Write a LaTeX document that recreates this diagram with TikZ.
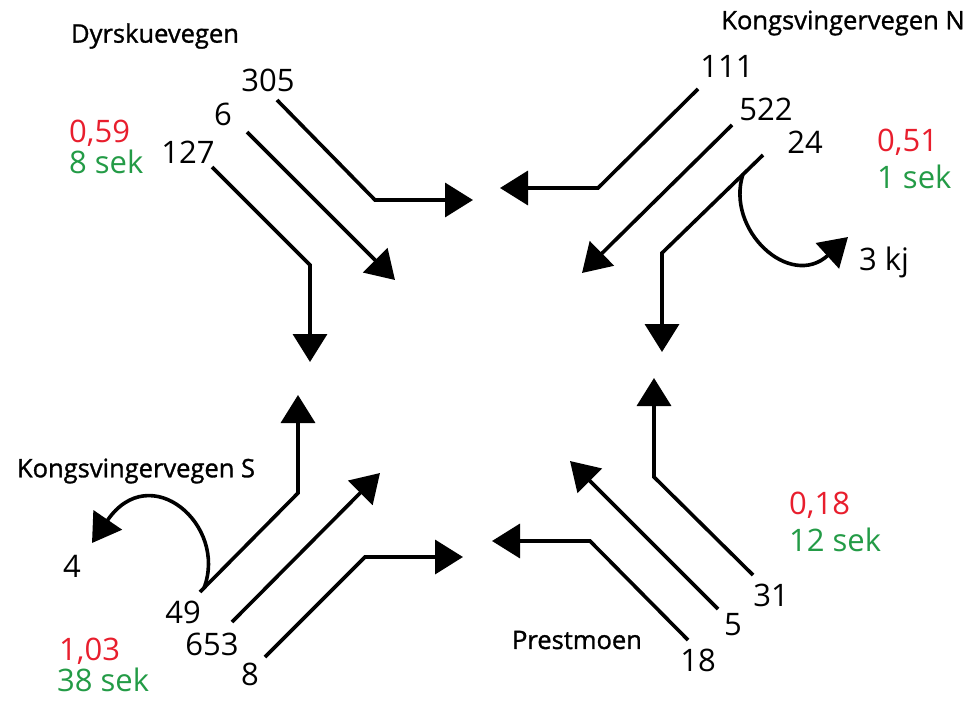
\documentclass[tikz,border=0pt]{standalone}
\usepackage{fontspec}
\setmainfont{Open Sans}
\newfontfamily\roadfont[FakeBold=1.2]{Open Sans}
\usetikzlibrary{arrows.meta}
\definecolor{valred}{RGB}{232,30,45}
\definecolor{valgreen}{RGB}{35,155,70}
\begin{document}
\begin{tikzpicture}[x=1pt,y=-1pt,
  flow/.style={line width=3.6pt,-{Triangle[length=28pt,width=34pt]}},
  numlbl/.style={font=\fontsize{31}{31}\selectfont,inner sep=0pt},
  roadlbl/.style={font=\roadfont\fontsize{25.5}{25.5}\selectfont,inner sep=0pt},
  ratiolbl/.style={numlbl,text=valred,anchor=west},
  waitlbl/.style={numlbl,text=valgreen,anchor=west}]
\useasboundingbox (0,0) rectangle (971,701);
% road names
\node[roadlbl] (dyr) at (155,36) {Dyrskuevegen};
\node[roadlbl] (kvn) at (843,23) {Kongsvingervegen N};
\node[roadlbl] (kvs) at (136,471) {Kongsvingervegen S};
\node[roadlbl] (pre) at (577,640) {Prestmoen};
% volumes
\node[numlbl] (n305) at (268,80) {305};
\node[numlbl] (n6) at (223,114) {6};
\node[numlbl] (n127) at (188,152) {127};
\node[numlbl] (n111) at (727,66) {111};
\node[numlbl] (n522) at (766,109) {522};
\node[numlbl] (n24) at (805,142) {24};
\node[numlbl] (n3kj) at (884,262) {3 kj};
\node[numlbl] (n4) at (72,566) {4};
\node[numlbl] (n49) at (183,612) {49};
\node[numlbl] (n653) at (212,644) {653};
\node[numlbl] (n8) at (250,674) {8};
\node[numlbl] (n31) at (771,595) {31};
\node[numlbl] (n5) at (733,625) {5};
\node[numlbl] (n18) at (698,660) {18};
% ratios and waiting times
\node[ratiolbl] (r1) at (69,133) {0,59};
\node[waitlbl] (w1) at (69,162) {8 sek};
\node[ratiolbl] (r2) at (877,142) {0,51};
\node[waitlbl] (w2) at (877,177) {1 sek};
\node[ratiolbl] (r3) at (59,651) {1,03};
\node[waitlbl] (w3) at (57,680) {38 sek};
\node[ratiolbl] (r4) at (789,505) {0,18};
\node[waitlbl] (w4) at (789,540) {12 sek};
% flow coordinates
\coordinate (s305) at (277,100); \coordinate (k305) at (375,200); \coordinate (e305) at (473,200);
\coordinate (s6) at (247,132); \coordinate (e6) at (395,280);
\coordinate (s127) at (212,167); \coordinate (k127) at (310,265); \coordinate (e127) at (310,362);
\coordinate (s111) at (698,89); \coordinate (k111) at (598,188); \coordinate (e111) at (500,188);
\coordinate (s522) at (732,125); \coordinate (e522) at (582,273);
\coordinate (s24) at (763,155); \coordinate (k24) at (662,253); \coordinate (e24) at (662,352);
\coordinate (uN) at (743,174); \coordinate (euN) at (848,237);
\coordinate (s49) at (200,592); \coordinate (k49) at (298,493); \coordinate (e49) at (298,395);
\coordinate (uS) at (204,588); \coordinate (euS) at (92,543);
\coordinate (s653) at (232,622); \coordinate (e653) at (380,473);
\coordinate (s8) at (265,657); \coordinate (k8) at (365,557); \coordinate (e8) at (463,557);
\coordinate (s31) at (753,575); \coordinate (k31) at (654,477); \coordinate (e31) at (654,378);
\coordinate (s5) at (718,609); \coordinate (e5) at (570,461);
\coordinate (s18) at (688,640); \coordinate (k18) at (590,541); \coordinate (e18) at (492,541);
% flows
\draw[flow] (s305) -- (k305) -- (e305);
\draw[flow] (s6) -- (e6);
\draw[flow] (s127) -- (k127) -- (e127);
\draw[flow] (s111) -- (k111) -- (e111);
\draw[flow] (s522) -- (e522);
\draw[flow] (s24) -- (k24) -- (e24);
\draw[flow] (uN) .. controls (725,230) and (790,290) .. (euN);
\draw[flow] (s49) -- (k49) -- (e49);
\draw[flow] (uS) .. controls (228,525) and (150,458) .. (euS);
\draw[flow] (s653) -- (e653);
\draw[flow] (s8) -- (k8) -- (e8);
\draw[flow] (s31) -- (k31) -- (e31);
\draw[flow] (s5) -- (e5);
\draw[flow] (s18) -- (k18) -- (e18);
\end{tikzpicture}
\end{document}
